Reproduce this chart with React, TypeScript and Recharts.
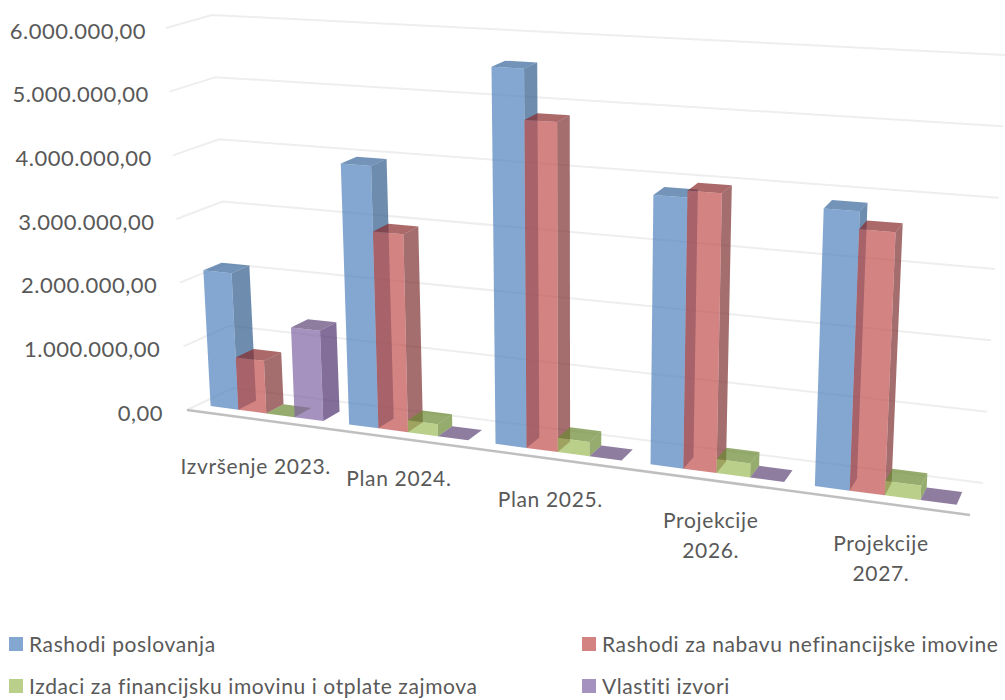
import { Bar, BarChart, CartesianGrid, Legend, XAxis, YAxis } from 'recharts'

const categories = ['Izvršenje 2023.', 'Plan 2024.', 'Plan 2025.', 'Projekcije 2026.', 'Projekcije 2027.']
const rashodiPoslovanja = [2140000, 4000000, 5620000, 3900000, 3900000]
const rashodiNefinancijske = [820000, 3000000, 4860000, 4000000, 3650000]
const izdaciFinancijski = [0, 180000, 210000, 200000, 200000]
const vlastitiIzvori = [1390000, 0, 0, 0, 0]
const yTicks = [0, 1000000, 2000000, 3000000, 4000000, 5000000, 6000000]

const data = categories.map((name, i) => ({
  name,
  poslovanje: rashodiPoslovanja[i],
  nefinancijska: rashodiNefinancijske[i],
  financijska: izdaciFinancijski[i],
  vlastiti: vlastitiIzvori[i],
}))

const W = 1005
const H = 700
const PLOT_LEFT = 187
const PLOT_TOP = 28
const PLOT_W = 783
const PLOT_H = 482
const TEXT = '#595959'
const FONT = 'Lato, sans-serif'

// corners of the 3D box as seen on screen: [floor/top] for front and back, left and right
const BOX = {
  frontLeft: [[187, 410], [166, 28]],
  frontRight: [[970, 515], [992, 72]],
  backLeft: [[233, 388], [212, 15]],
  backRight: [[983, 483], [1007, 55]],
}
const PERSPECTIVE = 1.155
const DEPTH_FRONT = 0.25
const DEPTH_BACK = 0.65

const mix = (a: number, b: number, t: number) => a + (b - a) * t

function project(u: number, v: number, d: number) {
  const t = u / (u + PERSPECTIVE * (1 - u))
  const axis = (k: number) => {
    const fl = mix(BOX.frontLeft[0][k], BOX.frontLeft[1][k], v)
    const fr = mix(BOX.frontRight[0][k], BOX.frontRight[1][k], v)
    const bl = mix(BOX.backLeft[0][k], BOX.backLeft[1][k], v)
    const br = mix(BOX.backRight[0][k], BOX.backRight[1][k], v)
    return mix(mix(fl, fr, t), mix(bl, br, t), d)
  }
  return [axis(0), axis(1)]
}

const toU = (x: number) => (x - PLOT_LEFT) / PLOT_W
const toV = (y: number) => (PLOT_TOP + PLOT_H - y) / PLOT_H
const pts = (list: number[][]) => list.map((p) => `${p[0]},${p[1]}`).join(' ')

function Box3D({ x, y, width, height, fill, side, top }: any) {
  const u0 = toU(x)
  const u1 = toU(x + width)
  const v0 = toV(y + height)
  const v1 = toV(y)
  const front = [project(u0, v0, DEPTH_FRONT), project(u1, v0, DEPTH_FRONT), project(u1, v1, DEPTH_FRONT), project(u0, v1, DEPTH_FRONT)]
  const right = [project(u1, v0, DEPTH_FRONT), project(u1, v0, DEPTH_BACK), project(u1, v1, DEPTH_BACK), project(u1, v1, DEPTH_FRONT)]
  const cap = [project(u0, v1, DEPTH_FRONT), project(u1, v1, DEPTH_FRONT), project(u1, v1, DEPTH_BACK), project(u0, v1, DEPTH_BACK)]
  return (
    <g fillOpacity={0.7}>
      <polygon points={pts(right)} fill={side} />
      <polygon points={pts(cap)} fill={top} />
      <polygon points={pts(front)} fill={fill} />
    </g>
  )
}

function GridLine({ y1 }: any) {
  const v = toV(y1)
  const line = [project(0, v, 0), project(0, v, 1), project(1, v, 1)]
  const isFloor = Math.abs(v) < 0.001
  return (
    <g>
      <polyline points={pts(line)} fill="none" stroke="#eeeeee" strokeWidth={2} />
      {isFloor && <polyline points={pts([project(0, 0, 0), project(1, 0, 0)])} fill="none" stroke="#bfbfbf" strokeWidth={2.5} />}
    </g>
  )
}

function FloorTick({ x, payload, index }: any) {
  const [px, py] = project(toU(x), 0, 0)
  const label: string = payload.value
  const lines = label.startsWith('Projekcije') ? label.split(' ') : [label]
  const drop = index === 0 ? 46 : 39
  return (
    <text textAnchor="middle" fontFamily={FONT} fontSize={21} letterSpacing={0.65} fill={TEXT} dominantBaseline="central">
      {lines.map((l, i) => (
        <tspan key={l} x={px} y={py + drop + i * 29.5}>
          {l}
        </tspan>
      ))}
    </text>
  )
}

function ValueTick({ y, payload }: any) {
  const v = toV(y)
  const [px, py] = project(0, v, 0)
  return (
    <text x={px - 24 + 4 * v} y={py + 2} textAnchor="end" dominantBaseline="central" fontFamily={FONT} fontSize={22} letterSpacing={0.5} fill={TEXT}>
      {payload.value.toLocaleString('de-DE', { minimumFractionDigits: 2 })}
    </text>
  )
}

function LegendGrid({ payload }: any) {
  return (
    <div style={{ display: 'grid', gridTemplateColumns: '573px 1fr', rowGap: 15, paddingLeft: 9, fontFamily: FONT, fontSize: 21, letterSpacing: 0.6, color: TEXT, lineHeight: '27px' }}>
      {payload.map((item: any) => (
        <div key={item.value} style={{ display: 'flex', alignItems: 'center', whiteSpace: 'nowrap' }}>
          <span style={{ width: 14, height: 14, marginRight: 6, background: item.color, opacity: 0.7 }} />
          {item.value}
        </div>
      ))}
    </div>
  )
}

export default function App() {
  return (
    <div style={{ position: 'absolute', left: 0, top: 0, width: W, height: H }}>
      <BarChart
        width={W}
        height={H}
        data={data}
        barCategoryGap="9%"
        barGap={0}
        margin={{ top: PLOT_TOP, right: W - PLOT_LEFT - PLOT_W, left: 0, bottom: 0 }}
      >
        <CartesianGrid vertical={false} horizontal={(p: any) => <GridLine key={p.y1} {...p} />} />
        <XAxis
          dataKey="name"
          height={H - PLOT_TOP - PLOT_H}
          axisLine={false}
          tickLine={false}
          interval={0}
          tick={(p: any) => <FloorTick {...p} />}
        />
        <YAxis
          width={PLOT_LEFT}
          domain={[0, 6000000]}
          ticks={yTicks}
          axisLine={false}
          tickLine={false}
          tick={(p: any) => <ValueTick {...p} />}
        />
        <Legend
          verticalAlign="middle"
          itemSorter={null}
          wrapperStyle={{ left: 0, top: 630, width: W }}
          content={(p: any) => <LegendGrid {...p} />}
        />
        <Bar dataKey="poslovanje" name="Rashodi poslovanja" fill="#4f81bd" isAnimationActive={false}
          shape={(p: any) => <Box3D {...p} side="#305b8c" top="#37669a" />} />
        <Bar dataKey="nefinancijska" name="Rashodi za nabavu nefinancijske imovine" fill="#c0504d" isAnimationActive={false}
          shape={(p: any) => <Box3D {...p} side="#7d3131" top="#892a2a" />} />
        <Bar dataKey="financijska" name="Izdaci za financijsku imovinu i otplate zajmova" fill="#9bbb59" isAnimationActive={false}
          shape={(p: any) => <Box3D {...p} side="#698730" top="#698730" />} />
        <Bar dataKey="vlastiti" name="Vlastiti izvori" fill="#8064a2" isAnimationActive={false}
          shape={(p: any) => <Box3D {...p} side="#4f316f" top="#5f4678" />} />
      </BarChart>
    </div>
  )
}
